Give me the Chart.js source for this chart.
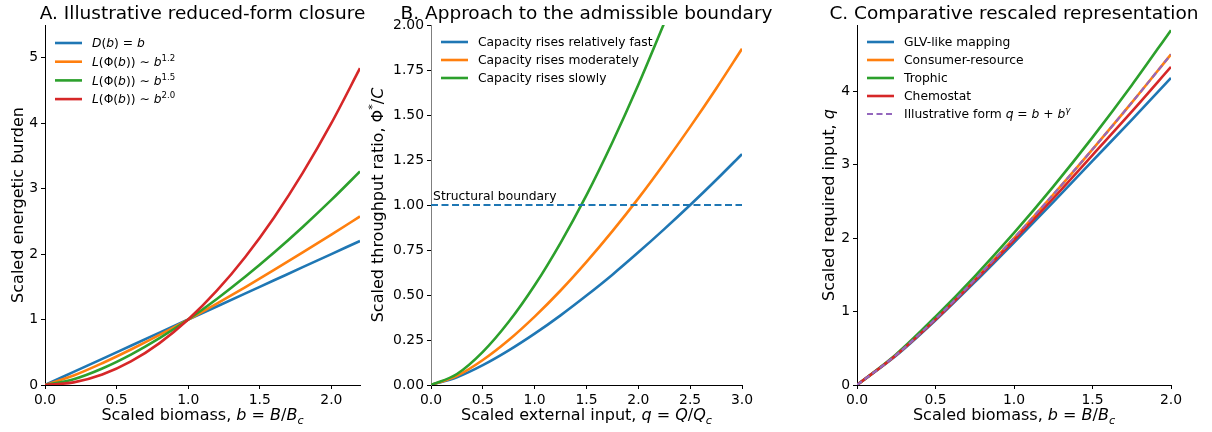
<!DOCTYPE html>
<html>
<head>
<meta charset="utf-8">
<script src="https://cdn.jsdelivr.net/npm/chart.js@4.4.1/dist/chart.umd.min.js"></script>
<style>
html, body { margin: 0; padding: 0; background: #fff; }
#wrap { position: relative; width: 1212px; height: 432px; }
#wrap canvas { position: absolute; left: 0; top: 0; }
</style>
</head>
<body>
<div id="wrap">
<canvas id="chartA" width="1212" height="432"></canvas>
<canvas id="chartB" width="1212" height="432"></canvas>
<canvas id="chartC" width="1212" height="432"></canvas>
</div>
<script>
// Panel A: reduced-form closure
const aB = [0, 0.2, 0.4, 0.6, 0.8, 1.0, 1.2, 1.4, 1.6, 1.8, 2.0, 2.2];
const aLinear = [0, 0.2, 0.4, 0.6, 0.8, 1.0, 1.2, 1.4, 1.6, 1.8, 2.0, 2.2];
const aPow12 = [0, 0.145, 0.333, 0.542, 0.765, 1.0, 1.245, 1.497, 1.758, 2.025, 2.297, 2.576];
const aPow15 = [0, 0.089, 0.253, 0.465, 0.716, 1.0, 1.315, 1.657, 2.024, 2.415, 2.828, 3.263];
const aPow20 = [0, 0.04, 0.16, 0.36, 0.64, 1.0, 1.44, 1.96, 2.56, 3.24, 4.0, 4.84];
const aLabels = ['$D$($b$) = $b$', '$L$(Φ($b$)) ∼ $b$^{1.2}', '$L$(Φ($b$)) ∼ $b$^{1.5}', '$L$(Φ($b$)) ∼ $b$^{2.0}'];
const aXTicks = [0, 0.5, 1.0, 1.5, 2.0];
const aYTicks = [0, 1, 2, 3, 4, 5];

// Panel B: approach to the boundary
const bQ = [0, 0.25, 0.5, 0.75, 1.0, 1.25, 1.5, 1.75, 2.0, 2.25, 2.5, 2.75, 3.0];
const bFast = [0, 0.043, 0.110, 0.192, 0.285, 0.387, 0.497, 0.613, 0.737, 0.866, 1.0, 1.139, 1.283];
const bModerate = [0, 0.051, 0.139, 0.250, 0.380, 0.525, 0.684, 0.855, 1.037, 1.231, 1.434, 1.646, 1.868];
const bSlow = [0, 0.061, 0.184, 0.351, 0.554, 0.790, 1.055, 1.349, 1.668, 2.011];
const bBoundaryQ = [0, 3.0];
const bBoundary = [1.0, 1.0];
const bLabels = ['Capacity rises relatively fast', 'Capacity rises moderately', 'Capacity rises slowly'];
const bXTicks = [0, 0.5, 1.0, 1.5, 2.0, 2.5, 3.0];
const bYTicks = [0, 0.25, 0.5, 0.75, 1.0, 1.25, 1.5, 1.75, 2.0];

// Panel C: rescaled representation
const cB = [0, 0.25, 0.5, 0.75, 1.0, 1.25, 1.5, 1.75, 2.0];
const cGLV = [0, 0.40, 0.88, 1.40, 1.94, 2.49, 3.05, 3.61, 4.18];
const cConsumer = [0, 0.41, 0.90, 1.434, 2.0, 2.593, 3.208, 3.843, 4.5];
const cTrophic = [0, 0.42, 0.93, 1.48, 2.07, 2.70, 3.37, 4.08, 4.83];
const cChemostat = [0, 0.41, 0.89, 1.42, 1.97, 2.54, 3.13, 3.72, 4.33];
const cIllustrative = [0, 0.41, 0.90, 1.434, 2.0, 2.593, 3.208, 3.843, 4.5];
const cLabels = ['GLV-like mapping', 'Consumer-resource', 'Trophic', 'Chemostat', 'Illustrative form $q$ = $b$ + $b$^{$γ$}'];
const cXTicks = [0, 0.5, 1.0, 1.5, 2.0];
const cYTicks = [0, 1, 2, 3, 4];

const FONT = "'DejaVu Sans', sans-serif";
const BLUE = '#1f77b4', ORANGE = '#ff7f0e', GREEN = '#2ca02c', RED = '#d62728', PURPLE = '#9467bd';

// tiny markup: $..$ italic, ^{..} superscript, _{..} subscript
function parseRich(str) {
    const segs = [];
    let it = false, mode = null, buf = '';
    const push = () => { if (buf) { segs.push({ t: buf, it, mode }); buf = ''; } };
    for (let i = 0; i < str.length; i++) {
        const c = str[i];
        if (c === '$') { push(); it = !it; }
        else if ((c === '^' || c === '_') && str[i + 1] === '{') { push(); mode = c === '^' ? 'sup' : 'sub'; i++; }
        else if (c === '}' && mode) { push(); mode = null; }
        else buf += c;
    }
    push();
    return segs;
}

function fontFor(s, size) {
    const sz = s.mode ? size * 0.7 : size;
    return (s.it ? 'italic ' : '') + sz.toFixed(1) + 'px ' + FONT;
}

function drawRich(ctx, str, x, y, size, align) {
    const segs = parseRich(str);
    let w = 0;
    segs.forEach(s => { ctx.font = fontFor(s, size); w += ctx.measureText(s.t).width; });
    let cx = x;
    if (align === 'center') cx = x - w / 2;
    else if (align === 'right') cx = x - w;
    ctx.textAlign = 'left';
    ctx.textBaseline = 'alphabetic';
    segs.forEach(s => {
        ctx.font = fontFor(s, size);
        let dy = 0;
        if (s.mode === 'sup') dy = -size * 0.42;
        if (s.mode === 'sub') dy = size * 0.22;
        ctx.fillText(s.t, cx, y + dy);
        cx += ctx.measureText(s.t).width;
    });
}

const decoPlugin = {
    id: 'deco',
    afterDraw(chart, args, opts) {
        const ctx = chart.ctx;
        const area = chart.chartArea;
        const mid = (area.left + area.right) / 2;
        ctx.save();
        ctx.fillStyle = '#000';
        drawRich(ctx, opts.title, mid, 19, 18.5, 'center');
        drawRich(ctx, opts.xTitle, mid, 420, 16, 'center');
        ctx.save();
        ctx.translate(opts.yTitleX + 5.8, (area.top + area.bottom) / 2);
        ctx.rotate(-Math.PI / 2);
        drawRich(ctx, opts.yTitle, 0, 0, 16, 'center');
        ctx.restore();

        let y = area.top + opts.legendTop;
        chart.data.datasets.forEach(ds => {
            if (ds.noLegend) return;
            ctx.strokeStyle = ds.borderColor;
            ctx.lineWidth = ds.borderWidth;
            ctx.setLineDash(ds.borderDash || []);
            ctx.beginPath();
            ctx.moveTo(area.left + 10, y);
            ctx.lineTo(area.left + 37, y);
            ctx.stroke();
            ctx.setLineDash([]);
            ctx.fillStyle = '#000';
            drawRich(ctx, ds.label, area.left + 47, y + 4.3, 12.3, 'left');
            y += opts.legendRow;
        });

        (opts.notes || []).forEach(n => {
            const px = chart.scales.x.getPixelForValue(n.x);
            const py = chart.scales.y.getPixelForValue(n.y);
            drawRich(ctx, n.text, px, py, 12.3, 'left');
        });
        ctx.restore();
    }
};
Chart.register(decoPlugin);

function series(label, xs, ys, color, i, extra) {
    return Object.assign({
        label: label,
        data: ys.map((v, k) => ({ x: xs[k], y: v })),
        borderColor: color,
        backgroundColor: color,
        borderWidth: 2.6,
        pointRadius: 0,
        fill: false,
        cubicInterpolationMode: 'monotone',
        order: -i
    }, extra || {});
}

function axis(min, max, ticks, digits, horizontal, borderColor) {
    return {
        type: 'linear',
        min: min,
        max: max,
        afterBuildTicks: s => { s.ticks = ticks.map(v => ({ value: v })); },
        afterFit: s => { if (horizontal) s.height = 47; else s.width = 45; },
        ticks: {
            callback: v => Number(v).toFixed(digits),
            color: '#000',
            font: { family: FONT, size: 13.9 },
            padding: 3,
            maxRotation: 0,
            autoSkip: false
        },
        grid: { drawOnChartArea: false, drawTicks: true, tickLength: 4, color: '#000', lineWidth: 1 },
        border: { display: true, color: borderColor || '#000', width: 1 }
    };
}

function makePanel(id, cfg) {
    return new Chart(document.getElementById(id), {
        type: 'line',
        data: { datasets: cfg.datasets },
        options: {
            responsive: false,
            animation: false,
            events: [],
            layout: { padding: { left: cfg.left - 45, right: 1212 - cfg.right, top: 25, bottom: 0 } },
            scales: {
                x: axis(cfg.x[0], cfg.x[1], cfg.xTicks, cfg.xDigits, true),
                y: axis(cfg.y[0], cfg.y[1], cfg.yTicks, cfg.yDigits, false, cfg.yBorder)
            },
            plugins: { legend: { display: false }, tooltip: { enabled: false }, deco: cfg.deco }
        }
    });
}

makePanel('chartA', {
    left: 45, right: 360,
    x: [0, 2.2], xTicks: aXTicks, xDigits: 1,
    y: [0, 5.5], yTicks: aYTicks, yDigits: 0,
    datasets: [
        series(aLabels[0], aB, aLinear, BLUE, 0),
        series(aLabels[1], aB, aPow12, ORANGE, 1),
        series(aLabels[2], aB, aPow15, GREEN, 2),
        series(aLabels[3], aB, aPow20, RED, 3)
    ],
    deco: {
        title: 'A. Illustrative reduced-form closure',
        xTitle: 'Scaled biomass, $b$ = $B$/$B$_{$c$}',
        yTitle: 'Scaled energetic burden',
        yTitleX: 17,
        legendTop: 18, legendRow: 18.7
    }
});

makePanel('chartB', {
    left: 431, right: 742,
    x: [0, 3.0], xTicks: bXTicks, xDigits: 1,
    y: [0, 2.0], yTicks: bYTicks, yDigits: 2,
    yBorder: '#7f7f7f',
    datasets: [
        series(bLabels[0], bQ, bFast, BLUE, 0),
        series(bLabels[1], bQ, bModerate, ORANGE, 1),
        series(bLabels[2], bQ.slice(0, bSlow.length), bSlow, GREEN, 2),
        series('Structural boundary', bBoundaryQ, bBoundary, BLUE, 3, { borderDash: [7, 3.5], borderWidth: 2.2, noLegend: true })
    ],
    deco: {
        title: 'B. Approach to the admissible boundary',
        xTitle: 'Scaled external input, $q$ = $Q$/$Q$_{$c$}',
        yTitle: 'Scaled throughput ratio, Φ^{*}/$C$',
        yTitleX: 377,
        legendTop: 17, legendRow: 18,
        notes: [{ x: 0.02, y: 1.03, text: 'Structural boundary' }]
    }
});

makePanel('chartC', {
    left: 857, right: 1171,
    x: [0, 2.0], xTicks: cXTicks, xDigits: 1,
    y: [0, 4.9], yTicks: cYTicks, yDigits: 0,
    datasets: [
        series(cLabels[0], cB, cGLV, BLUE, 0),
        series(cLabels[1], cB, cConsumer, ORANGE, 1),
        series(cLabels[2], cB, cTrophic, GREEN, 2),
        series(cLabels[3], cB, cChemostat, RED, 3),
        series(cLabels[4], cB, cIllustrative, PURPLE, 4, { borderDash: [6, 3.5], borderWidth: 2.2 })
    ],
    deco: {
        title: 'C. Comparative rescaled representation',
        xTitle: 'Scaled biomass, $b$ = $B$/$B$_{$c$}',
        yTitle: 'Scaled required input, $q$',
        yTitleX: 828,
        legendTop: 17, legendRow: 18
    }
});
</script>
</body>
</html>
